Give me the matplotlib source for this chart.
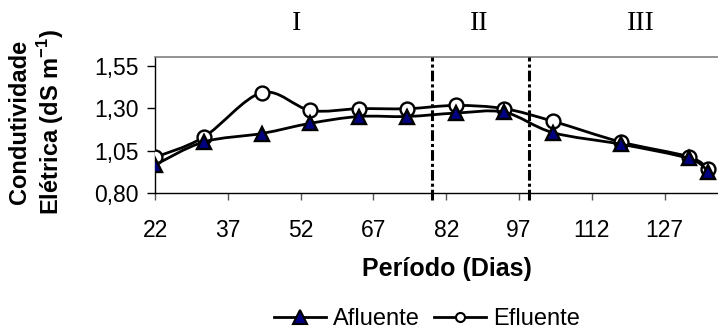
#!/usr/bin/env python3
"""Condutividade elétrica do afluente e efluente ao longo do período."""

import matplotlib
matplotlib.use("Agg")
import matplotlib.pyplot as plt
from matplotlib.path import Path
from matplotlib.patches import PathPatch
from matplotlib.lines import Line2D
from matplotlib.ticker import FuncFormatter

# Data
dias = [22, 32, 44, 54, 64, 74, 84, 94, 104, 118, 132, 136]
afluente = [0.965, 1.10, 1.15, 1.21, 1.25, 1.25, 1.27, 1.275, 1.155, 1.087, 1.003, 0.925]
efluente = [1.01, 1.128, 1.39, 1.286, 1.296, 1.296, 1.315, 1.296, 1.222, 1.10, 1.013, 0.939]
x_ticks = [22, 37, 52, 67, 82, 97, 112, 127]
y_ticks = [0.80, 1.05, 1.30, 1.55]
fases = ["I", "II", "III"]
fase_x = [297, 479, 641]     # label centres, pixels
limites = [79, 99]           # phase boundaries (days)

plt.rcParams["font.family"] = ["Liberation Sans", "DejaVu Sans"]
plt.rcParams["mathtext.fontset"] = "custom"
plt.rcParams["mathtext.rm"] = "Liberation Sans"
plt.rcParams["mathtext.bf"] = "Liberation Sans:bold"

W, H = 718, 329


def smooth_path(x, y):
    """Excel-style smoothed line (cardinal spline as cubic Beziers)."""
    n = len(x)
    verts = [(x[0], y[0])]
    codes = [Path.MOVETO]
    for i in range(n - 1):
        a = max(i - 1, 0)
        b = min(i + 2, n - 1)
        c1 = (x[i] + (x[i + 1] - x[a]) / 6, y[i] + (y[i + 1] - y[a]) / 6)
        c2 = (x[i + 1] - (x[b] - x[i]) / 6, y[i + 1] - (y[b] - y[i]) / 6)
        verts += [c1, c2, (x[i + 1], y[i + 1])]
        codes += [Path.CURVE4] * 3
    return Path(verts, codes)


fig = plt.figure(figsize=(W / 100, H / 100), dpi=100)
ax = fig.add_axes([155 / W, 1 - 193 / H, 1 - 155 / W, (193 - 57) / H])

# Efluente below, Afluente on top
ax.add_patch(PathPatch(smooth_path(dias, efluente), fill=False, lw=2.0,
                       ec="black", transform=ax.transData, zorder=2))
ax.plot(dias, efluente, ls="none", marker="o", ms=10, mfc="white",
        mec="black", mew=1.7, zorder=3)
ax.add_patch(PathPatch(smooth_path(dias, afluente), fill=False, lw=2.0,
                       ec="black", transform=ax.transData, zorder=4))
ax.plot(dias, afluente, ls="none", marker="^", ms=10.5, mfc="#000080",
        mec="black", mew=1.7, zorder=5)

for xv in limites:
    ax.plot([xv, xv], [0.76, 1.6], color="black", lw=2.2,
            ls=(0, (3.5, 1.0, 1.0, 1.0)), clip_on=False, zorder=6)

ax.set_xlim(22, 138)
ax.set_ylim(0.80, 1.60)
ax.set_xticks(x_ticks)
ax.set_yticks(y_ticks)
ax.yaxis.set_major_formatter(FuncFormatter(lambda v, p: f"{v:.2f}".replace(".", ",")))
ax.tick_params(axis="x", direction="out", length=5, width=1, color="#555555",
               labelsize=16.5, pad=14)
ax.tick_params(axis="y", direction="out", length=6, width=1, color="black",
               labelsize=16.5, pad=6)

ax.spines["right"].set_visible(False)
ax.spines["top"].set_color("#808080")
ax.spines["top"].set_linewidth(1.2)
ax.spines["left"].set_linewidth(1.0)
ax.spines["bottom"].set_linewidth(1.0)

for txt, px in zip(fases, fase_x):
    fig.text(px / W, 1 - 24 / H, txt, ha="center", va="center",
             fontsize=20, family="Liberation Serif")

fig.text(37 / W, 1 - 122 / H,
         "Condutividade\nElétrica (dS m$^{\\mathbf{-1}}$)",
         rotation=90, ha="center", va="center", multialignment="center",
         fontsize=17, fontweight="bold", linespacing=1.15)
fig.text(447 / W, 1 - 269 / H, "Período (Dias)", ha="center", va="center",
         fontsize=18, fontweight="bold")

handles = [
    Line2D([], [], color="black", lw=2, marker="^", ms=9.5, mfc="#000080",
           mec="black", mew=1.5),
    Line2D([], [], color="black", lw=2, marker="o", ms=6.5, mfc="white",
           mec="black", mew=1.5),
]
fig.legend(handles, ["Afluente", "Efluente"], loc="center",
           bbox_to_anchor=(427 / W, 1 - 319 / H), ncol=2, frameon=False,
           fontsize=17, handlelength=2.2, handletextpad=0.3,
           columnspacing=0.6, borderpad=0, borderaxespad=0)

fig.savefig("out.png", dpi=100)
